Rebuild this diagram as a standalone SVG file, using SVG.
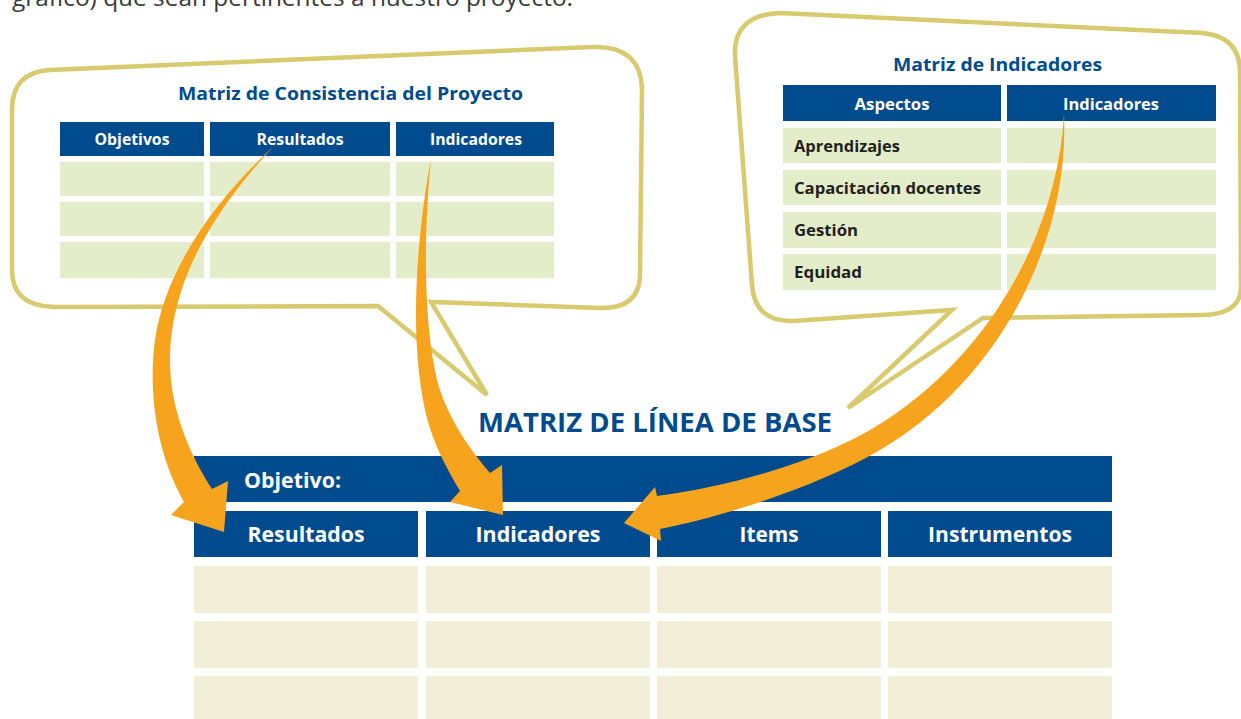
<svg xmlns="http://www.w3.org/2000/svg" width="1241" height="719" viewBox="0 0 1241 719">
<defs>
<style>
.hdr{fill:#004b8d}
.grn{fill:#e4edca}
.bge{fill:#f3eed7}
.bub{fill:#fff;stroke:#d8ca6e;stroke-width:4.5;stroke-linejoin:miter}
.arr{fill:#f6a41e}
.t{font-family:'Open Sans','Liberation Sans',sans-serif;font-weight:700}
.wh{fill:#fff;text-anchor:middle}
.bl{fill:#004b8d}
.dk{fill:#231f20}
</style>
</defs>
<rect width="1241" height="719" fill="#fff"/>
<g id="intro">
<text x="12" y="6" font-family="'Open Sans','Liberation Sans',sans-serif" font-size="24" fill="#3a3a3a" textLength="561" lengthAdjust="spacingAndGlyphs">gráfico) que sean pertinentes a nuestro proyecto.</text>
</g>
<g id="matriz-consistencia">
<path class="bub" d="M50,70 L592,47 Q641,45 642,90 L640,277 Q638,309 600,308 L431,302 L487,395 L378,306 L54,307 Q12,306 12,270 L12,110 Q12,72 50,70 Z"/>
<text class="t bl" x="178" y="100" font-size="17" textLength="345" lengthAdjust="spacingAndGlyphs">Matriz de Consistencia del Proyecto</text>
<rect class="hdr" x="60" y="122" width="144" height="34"/>
<rect class="hdr" x="210" y="122" width="180" height="34"/>
<rect class="hdr" x="396" y="122" width="158" height="34"/>
<text class="t wh" x="132" y="145" font-size="15.5" textLength="75" lengthAdjust="spacingAndGlyphs">Objetivos</text>
<text class="t wh" x="300" y="145" font-size="15.5" textLength="87" lengthAdjust="spacingAndGlyphs">Resultados</text>
<text class="t wh" x="476" y="145" font-size="15.5" textLength="92" lengthAdjust="spacingAndGlyphs">Indicadores</text>
<rect class="grn" x="60" y="162" width="144" height="34"/>
<rect class="grn" x="210" y="162" width="180" height="34"/>
<rect class="grn" x="396" y="162" width="158" height="34"/>
<rect class="grn" x="60" y="202" width="144" height="34"/>
<rect class="grn" x="210" y="202" width="180" height="34"/>
<rect class="grn" x="396" y="202" width="158" height="34"/>
<rect class="grn" x="60" y="242" width="144" height="36"/>
<rect class="grn" x="210" y="242" width="180" height="36"/>
<rect class="grn" x="396" y="242" width="158" height="36"/>
</g>
<g id="matriz-indicadores">
<path class="bub" d="M780,13 L1203,33 Q1240,37 1240,72 L1241,288 Q1240,314 1203,315 L983,318 L848,408 L952,310 L793,321 Q755,322 752,285 L735,56 Q733,15 780,13 Z"/>
<text class="t bl" x="893" y="71" font-size="17" textLength="209" lengthAdjust="spacingAndGlyphs">Matriz de Indicadores</text>
<rect class="hdr" x="783" y="85" width="218" height="36"/>
<rect class="hdr" x="1007" y="85" width="209" height="36"/>
<text class="t wh" x="892" y="110" font-size="16" textLength="75" lengthAdjust="spacingAndGlyphs">Aspectos</text>
<text class="t wh" x="1111" y="110" font-size="16" textLength="96" lengthAdjust="spacingAndGlyphs">Indicadores</text>
<rect class="grn" x="783" y="128" width="218" height="35"/>
<rect class="grn" x="1007" y="128" width="209" height="35"/>
<rect class="grn" x="783" y="170" width="218" height="35"/>
<rect class="grn" x="1007" y="170" width="209" height="35"/>
<rect class="grn" x="783" y="212" width="218" height="36"/>
<rect class="grn" x="1007" y="212" width="209" height="36"/>
<rect class="grn" x="783" y="254" width="218" height="36"/>
<rect class="grn" x="1007" y="254" width="209" height="36"/>
<text class="t dk" x="794" y="152" font-size="16" textLength="106" lengthAdjust="spacingAndGlyphs">Aprendizajes</text>
<text class="t dk" x="794" y="194" font-size="16" textLength="187" lengthAdjust="spacingAndGlyphs">Capacitación docentes</text>
<text class="t dk" x="794" y="236" font-size="16" textLength="64" lengthAdjust="spacingAndGlyphs">Gestión</text>
<text class="t dk" x="794" y="278" font-size="16" textLength="68" lengthAdjust="spacingAndGlyphs">Equidad</text>
</g>
<g id="matriz-linea-base">
<text class="t bl" x="478" y="432" font-size="26" textLength="354" lengthAdjust="spacingAndGlyphs">MATRIZ DE LÍNEA DE BASE</text>
<rect class="hdr" x="194" y="456" width="918" height="46"/>
<text class="t" x="244" y="488" font-size="21" fill="#fff" textLength="97" lengthAdjust="spacingAndGlyphs">Objetivo:</text>
<rect class="hdr" x="194" y="511" width="224" height="46"/>
<rect class="hdr" x="426" y="511" width="224" height="46"/>
<rect class="hdr" x="657" y="511" width="224" height="46"/>
<rect class="hdr" x="888" y="511" width="224" height="46"/>
<text class="t wh" x="306" y="542" font-size="21" textLength="117" lengthAdjust="spacingAndGlyphs">Resultados</text>
<text class="t wh" x="538" y="542" font-size="21" textLength="125" lengthAdjust="spacingAndGlyphs">Indicadores</text>
<text class="t wh" x="769" y="542" font-size="21" textLength="59" lengthAdjust="spacingAndGlyphs">Items</text>
<text class="t wh" x="1000" y="542" font-size="21" textLength="144" lengthAdjust="spacingAndGlyphs">Instrumentos</text>
<rect class="bge" x="194" y="566" width="224" height="47"/>
<rect class="bge" x="426" y="566" width="224" height="47"/>
<rect class="bge" x="657" y="566" width="224" height="47"/>
<rect class="bge" x="888" y="566" width="224" height="47"/>
<rect class="bge" x="194" y="621" width="224" height="47"/>
<rect class="bge" x="426" y="621" width="224" height="47"/>
<rect class="bge" x="657" y="621" width="224" height="47"/>
<rect class="bge" x="888" y="621" width="224" height="47"/>
<rect class="bge" x="194" y="676" width="224" height="47"/>
<rect class="bge" x="426" y="676" width="224" height="47"/>
<rect class="bge" x="657" y="676" width="224" height="47"/>
<rect class="bge" x="888" y="676" width="224" height="47"/>
</g>
<g id="connectors">
<path class="arr" d="M273,147 C215,200 165,270 155,340 C147,400 160,460 184,502 L171,515 L224,532 L228,481 L212,489 C190,455 170,410 170,360 C170,290 205,220 273,147 Z"/>
<path class="arr" d="M431,158 C418,230 408,330 425,410 C433,445 448,470 460,491 L450,502 L503,515 L502,465 L490,473 C470,450 450,420 440,390 C425,340 422,250 431,158 Z"/>
<path class="arr" d="M1064,114 C1070,240 1000,380 880,450 C820,485 730,515 660,529 L661,541 L624,523 L655,487 L657,496 C720,488 810,465 870,430 C990,360 1058,230 1064,114 Z"/>
</g>
</svg>
